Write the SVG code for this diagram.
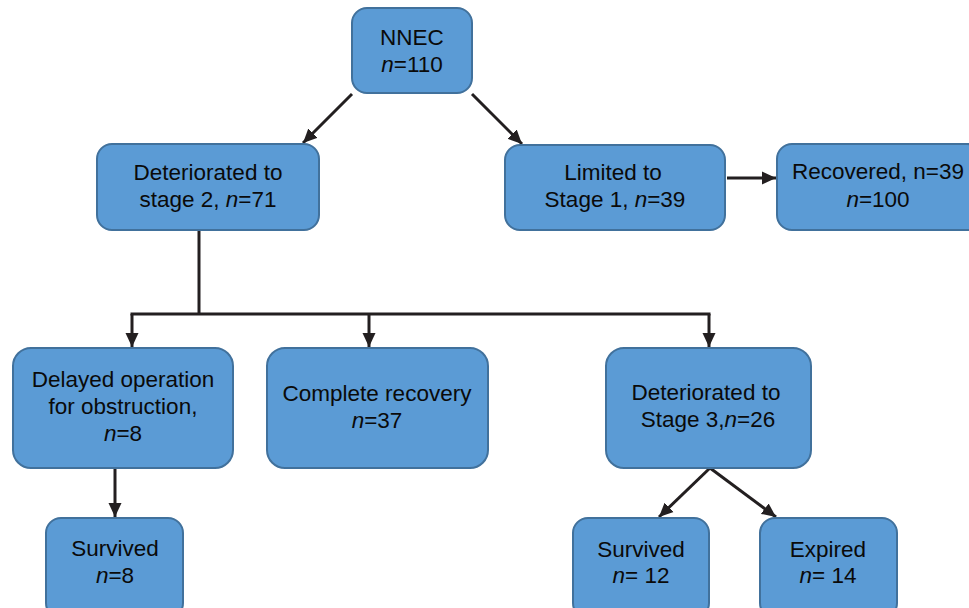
<svg xmlns="http://www.w3.org/2000/svg" width="969" height="608" viewBox="0 0 969 608">
<defs>
<style>
.box{fill:#5b9bd5;stroke:#41719c;stroke-width:2}
.t{font-family:"Liberation Sans",Arial,sans-serif;font-size:22.5px;fill:#0a0a0a;text-anchor:middle}
.c{stroke:#231f20;stroke-width:3;fill:none}
.ca{stroke:#231f20;stroke-width:3;fill:none;marker-end:url(#ah)}
</style>
<marker id="ah" markerUnits="userSpaceOnUse" markerWidth="14" markerHeight="14" viewBox="0 0 14 14" refX="14" refY="7" orient="auto">
<path d="M0,0.5 L14,7 L0,13.5 z" fill="#231f20"/>
</marker>
</defs>
<rect width="969" height="608" fill="#fff"/>
<g id="connectors">
<line class="ca" x1="352" y1="94" x2="303" y2="143"/>
<line class="ca" x1="472" y1="94" x2="522" y2="144"/>
<line class="ca" x1="727" y1="178" x2="776" y2="178"/>
<line class="c" x1="199" y1="230" x2="199" y2="314"/>
<line class="c" x1="130.5" y1="314" x2="710.5" y2="314"/>
<line class="ca" x1="132" y1="314" x2="132" y2="347"/>
<line class="ca" x1="369" y1="314" x2="369" y2="347"/>
<line class="ca" x1="709" y1="314" x2="709" y2="347"/>
<line class="ca" x1="115" y1="468" x2="115" y2="517"/>
<line class="ca" x1="710" y1="468" x2="659" y2="517"/>
<line class="ca" x1="710" y1="468" x2="776" y2="517"/>
</g>
<g id="nnec">
<rect class="box" x="352" y="8" width="120" height="85" rx="15"/>
<text class="t" x="412" y="45">NNEC</text>
<text class="t" x="412" y="72"><tspan font-style="italic">n</tspan>=110</text>
</g>
<g id="stage2">
<rect class="box" x="97" y="144" width="222" height="86" rx="15"/>
<text class="t" x="208" y="180">Deteriorated to</text>
<text class="t" x="208" y="207">stage 2, <tspan font-style="italic">n</tspan>=71</text>
</g>
<g id="stage1">
<rect class="box" x="505" y="145" width="220" height="85" rx="15"/>
<text class="t" x="613" y="180">Limited to</text>
<text class="t" x="615" y="207">Stage 1, <tspan font-style="italic">n</tspan>=39</text>
</g>
<g id="recovered">
<rect class="box" x="777" y="144" width="205" height="86" rx="15"/>
<text class="t" x="878" y="179">Recovered, n=39</text>
<text class="t" x="878" y="207"><tspan font-style="italic">n</tspan>=100</text>
</g>
<g id="delayed">
<rect class="box" x="13" y="348" width="220" height="120" rx="18"/>
<text class="t" x="123" y="387">Delayed operation</text>
<text class="t" x="123" y="414">for obstruction,</text>
<text class="t" x="123" y="441"><tspan font-style="italic">n</tspan>=8</text>
</g>
<g id="complete">
<rect class="box" x="267" y="348" width="221" height="120" rx="18"/>
<text class="t" x="377" y="401">Complete recovery</text>
<text class="t" x="377" y="428"><tspan font-style="italic">n</tspan>=37</text>
</g>
<g id="stage3">
<rect class="box" x="606" y="348" width="205" height="120" rx="18"/>
<text class="t" x="706" y="400">Deteriorated to</text>
<text class="t" x="708" y="427">Stage 3,<tspan font-style="italic">n</tspan>=26</text>
</g>
<g id="survived8">
<rect class="box" x="46" y="518" width="137" height="100" rx="15"/>
<text class="t" x="115" y="556">Survived</text>
<text class="t" x="115" y="583"><tspan font-style="italic">n</tspan>=8</text>
</g>
<g id="survived12">
<rect class="box" x="573" y="518" width="136" height="100" rx="15"/>
<text class="t" x="641" y="557">Survived</text>
<text class="t" x="641" y="583"><tspan font-style="italic">n</tspan>= 12</text>
</g>
<g id="expired">
<rect class="box" x="760" y="518" width="137" height="100" rx="15"/>
<text class="t" x="828" y="557">Expired</text>
<text class="t" x="828" y="583"><tspan font-style="italic">n</tspan>= 14</text>
</g>
</svg>
